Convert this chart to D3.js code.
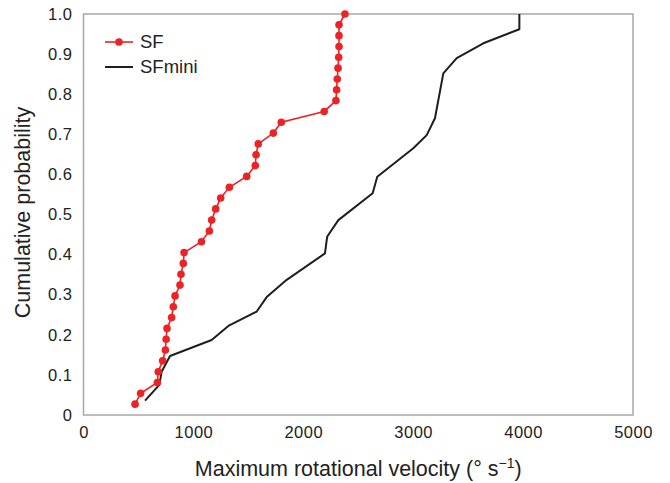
<!DOCTYPE html>
<html><head><meta charset="utf-8">
<script src="https://cdn.jsdelivr.net/npm/d3@7"></script>
<style>
html,body{margin:0;padding:0;background:#fff;}
text{font-family:"Liberation Sans",Arial,Helvetica,sans-serif;fill:#222;}
</style></head>
<body>
<svg id="chart" width="670" height="483"></svg>
<script>
// SF: maximum rotational velocity (deg/s) and cumulative probability
const sfVelocity = [469, 520, 672, 680, 720, 745, 752, 760, 802, 817, 833, 878, 887, 908, 915, 1073, 1145, 1166, 1203, 1248, 1327, 1485, 1563, 1570, 1590, 1727, 1800, 2190, 2297, 2303, 2309, 2316, 2322, 2325, 2325, 2325, 2379];
const sfProb = [0.027, 0.054, 0.081, 0.108, 0.135, 0.162, 0.189, 0.216, 0.243, 0.270, 0.297, 0.324, 0.351, 0.378, 0.405, 0.432, 0.459, 0.486, 0.514, 0.541, 0.568, 0.595, 0.622, 0.649, 0.676, 0.703, 0.730, 0.757, 0.784, 0.811, 0.838, 0.865, 0.892, 0.919, 0.946, 0.973, 1.0];
// SFmini
const miniVelocity = [560, 690, 711, 787, 1166, 1318, 1576, 1667, 1849, 2197, 2213, 2218, 2319, 2631, 2673, 3001, 3123, 3198, 3274, 3396, 3638, 3966, 3966];
const miniProb = [0.036, 0.075, 0.108, 0.147, 0.187, 0.222, 0.258, 0.294, 0.337, 0.403, 0.436, 0.445, 0.486, 0.553, 0.594, 0.665, 0.698, 0.740, 0.852, 0.890, 0.927, 0.962, 1.0];
const xTicks = [0, 1000, 2000, 3000, 4000, 5000];
const yTicks = [0, 0.1, 0.2, 0.3, 0.4, 0.5, 0.6, 0.7, 0.8, 0.9, 1.0];
const seriesNames = ["SF", "SFmini"];

const svg = d3.select("#chart");
const L = 83.5, R = 633, T = 14, B = 415;
const x = d3.scaleLinear().domain([0, 5000]).range([L, R]);
const y = d3.scaleLinear().domain([0, 1]).range([B, T]);

// frame
svg.append("rect").attr("x", L).attr("y", T).attr("width", R - L).attr("height", B - T)
  .attr("fill", "#fff").attr("stroke", "#a8a8a8").attr("stroke-width", 1.5);

// axes (labels only)
const xAxis = svg.append("g").attr("transform", `translate(0,${B})`)
  .call(d3.axisBottom(x).tickValues(xTicks).tickSize(0).tickPadding(11).tickFormat(d3.format("d")));
xAxis.select(".domain").remove();
xAxis.selectAll("text").attr("font-size", 16.5).attr("letter-spacing", 0.5).style("fill", "#222");

const yAxis = svg.append("g").attr("transform", `translate(${L},0)`)
  .call(d3.axisLeft(y).tickValues(yTicks).tickSize(0).tickPadding(11)
    .tickFormat(d => d === 0 ? "0" : d3.format(".1f")(d)));
yAxis.select(".domain").remove();
yAxis.selectAll("text").attr("font-size", 16.5).attr("letter-spacing", 0.5).style("fill", "#222");

// axis titles
const xt = svg.append("text").attr("x", (L + R) / 2).attr("y", 476).attr("text-anchor", "middle")
  .attr("font-size", 21.5);
xt.append("tspan").text("Maximum rotational velocity (° s");
xt.append("tspan").text("−1").attr("font-size", 14).attr("dy", -8);
xt.append("tspan").text(")").attr("dy", 8);

svg.append("text").attr("transform", `translate(30,212.5) rotate(-90)`)
  .attr("text-anchor", "middle").attr("font-size", 21.5).text("Cumulative probability");

// data
const sf = sfVelocity.map((v, i) => [v, sfProb[i]]);
const mini = miniVelocity.map((v, i) => [v, miniProb[i]]);
const line = d3.line().x(d => x(d[0])).y(d => y(d[1]));

svg.append("path").datum(mini).attr("d", line).attr("fill", "none")
  .attr("stroke", "#1e1e1e").attr("stroke-width", 2).attr("stroke-linejoin", "round");

svg.append("path").datum(sf).attr("d", line).attr("fill", "none")
  .attr("stroke", "#ec2224").attr("stroke-width", 1.6);
svg.selectAll("circle.sf").data(sf).enter().append("circle").attr("class", "sf")
  .attr("cx", d => x(d[0])).attr("cy", d => y(d[1])).attr("r", 3.8).attr("fill", "#ec2224");

// legend
const lg = svg.append("g");
lg.append("line").attr("x1", 105).attr("x2", 133).attr("y1", 42).attr("y2", 42)
  .attr("stroke", "#ec2224").attr("stroke-width", 1.6);
lg.append("circle").attr("cx", 119).attr("cy", 42).attr("r", 3.8).attr("fill", "#ec2224");
lg.append("text").attr("x", 140).attr("y", 48).attr("font-size", 18.5).text(seriesNames[0]);
lg.append("line").attr("x1", 105).attr("x2", 133).attr("y1", 67).attr("y2", 67)
  .attr("stroke", "#1e1e1e").attr("stroke-width", 2);
lg.append("text").attr("x", 140).attr("y", 73).attr("font-size", 18.5).text(seriesNames[1]);
</script>
</body></html>
